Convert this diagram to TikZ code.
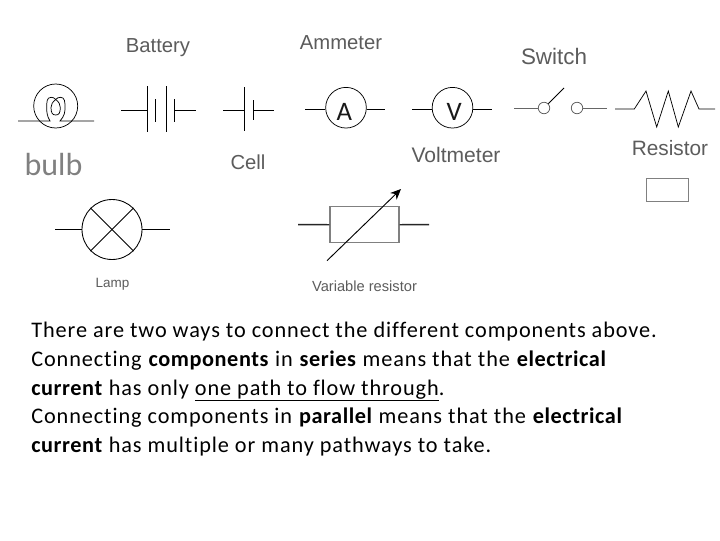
\documentclass[tikz,border=0pt]{standalone}
\usepackage{fontspec}
\setmainfont[LetterSpace=4.1,Ligatures=NoCommon,BoldFeatures={LetterSpace=2.6}]{Carlito}
\newfontfamily\lblfont{Liberation Sans}
\newfontfamily\plainfont{Carlito}
\usetikzlibrary{arrows.meta}
\definecolor{lblgray}{gray}{0.36}
\definecolor{bulbgray}{gray}{0.5}
\definecolor{boxgray}{gray}{0.5}
\tikzset{
  x=0.75pt,y=-0.75pt,
  wire/.style={draw=black,line width=0.55pt},
  thickwire/.style={draw=black!85,line width=1.05pt},
  graywire/.style={draw=black!60,line width=0.7pt},
  roundel/.style={circle,draw=black,line width=0.55pt,inner sep=0pt,minimum size=#1},
  grayroundel/.style={circle,draw=black!65,line width=0.55pt,inner sep=0pt,minimum size=#1},
  lbl/.style={font=\lblfont\fontsize{#1}{#1}\selectfont,text=lblgray,inner sep=0pt,anchor=center},
  meter/.style={font=\plainfont\fontsize{20}{20}\selectfont,inner sep=0pt,text=black!90},
  body/.style={font=\fontsize{16.7}{20}\selectfont,inner sep=0pt,anchor=base west,text=black},
}
\begin{document}
\begin{tikzpicture}
\useasboundingbox (0,0) rectangle (720,540);
\fill[white] (0,0) rectangle (720,540);
% labels
\node[lbl=15.2] (tbat) at (158,48) {Battery};
\node[lbl=15.2] (tamm) at (341,43) {Ammeter};
\node[lbl=16.8] (tsw) at (554,56) {Switch};
\node[lbl=15.6] (tres) at (670,148) {Resistor};
\node[lbl=15.8] (tvolt) at (456,155) {Voltmeter};
\node[lbl=15.2] (tcell) at (248,162) {Cell};
\node[font=\plainfont\fontsize{24}{24}\selectfont,text=bulbgray,inner sep=0pt] (tbulb) at (53.5,165) {bulb};
\node[lbl=10.1] (tlamp) at (112.5,284) {Lamp};
\node[lbl=11] (tvar) at (364.5,286) {Variable resistor};
% bulb
\node[roundel=33pt] (bulbc) at (55.7,106) {};
\coordinate (bl) at (18,121); \coordinate (bla) at (50,121);
\coordinate (br) at (94,121); \coordinate (bra) at (60,121);
\coordinate (btop) at (55.7,99.5); \coordinate (bbot) at (55.7,115);
\draw[wire] (bl) -- (bla) .. controls (47,116) and (46.7,112) .. (46.7,108)
  .. controls (46.7,102) and (46.7,97.3) .. (51,97.3)
  .. controls (53,97.3) and (54.5,98) .. (btop)
  .. controls (57,98) and (58.5,97.3) .. (60.5,97.3)
  .. controls (65,97.3) and (65,102) .. (65,108)
  .. controls (65,112) and (64.5,116) .. (bra) -- (br);
\draw[wire] (btop) .. controls (52.5,102) and (51,104.5) .. (51,107.5)
  .. controls (51,113) and (52.5,115) .. (bbot)
  .. controls (59,115) and (60.3,113) .. (60.3,107.5)
  .. controls (60.3,104.5) and (59,102) .. (btop);
% battery
\coordinate (ba) at (121,110); \coordinate (bb) at (147,110);
\coordinate (bc) at (175,110); \coordinate (bd) at (196,110);
\draw[wire] (ba) -- (bb); \draw[wire] (bc) -- (bd);
\draw[wire] (147,86) -- (147,132);
\draw[wire] (155,99) -- (155,122);
\draw[wire] (166,86) -- (166,132);
\draw[wire] (174.5,99) -- (174.5,122);
% cell
\coordinate (ca) at (223,110); \coordinate (cb) at (244.5,110);
\coordinate (cc) at (253,110); \coordinate (cd) at (274,110);
\draw[wire] (ca) -- (cb); \draw[wire] (cc) -- (cd);
\draw[wire] (244.5,87) -- (244.5,131);
\draw[wire] (253,100) -- (253,120);
% ammeter
\coordinate (aa) at (305,109.3); \coordinate (ab) at (385,109.3);
\node[roundel=30.5pt] (amm) at (346,107.7) {};
\node[meter] (ammt) at (344.3,112) {A};
\draw[wire] (aa) -- (amm.west |- aa); \draw[wire] (amm.east |- ab) -- (ab);
% voltmeter
\coordinate (va) at (412,109.3); \coordinate (vb) at (492,109.3);
\node[roundel=30.5pt] (volt) at (452.5,107.7) {};
\node[meter] (voltt) at (454.3,112) {V};
\draw[wire] (va) -- (volt.west |- va); \draw[wire] (volt.east |- vb) -- (vb);
% switch
\coordinate (sa) at (514,108); \coordinate (sb) at (607,108); \coordinate (sc) at (564,88);
\node[grayroundel=8.6pt] (s1) at (544,108) {};
\node[grayroundel=8.6pt] (s2) at (577,108) {};
\draw[graywire] (sa) -- (s1.west); \draw[graywire] (s2.east) -- (sb);
\draw[wire] (s1.north east) -- (sc);
% resistor
\draw[wire] (615,109) -- (634.3,109) -- (646,91) -- (656.7,127) -- (668.3,91) -- (678.3,127) -- (691,91) -- (699,109) -- (715,109);
\draw[boxgray,line width=0.7pt] (646,178.7) rectangle (688.3,201);
% lamp
\coordinate (la) at (55,229.5); \coordinate (lb) at (170,229.5);
\node[roundel=45pt,line width=0.65pt] (lamp) at (112,229.5) {};
\draw[wire] (la) -- (lamp.west); \draw[wire] (lamp.east) -- (lb);
\draw[wire,line width=0.65pt] (lamp.north west) -- (lamp.south east);
\draw[wire,line width=0.65pt] (lamp.south west) -- (lamp.north east);
% variable resistor
\coordinate (vra) at (298,224.6); \coordinate (vrb) at (429,224.6);
\node[draw=boxgray,line width=1.05pt,minimum width=51.7pt,minimum height=27pt,inner sep=0pt] (vr) at (364.5,224.7) {};
\draw[thickwire] (vra) -- (vr.west); \draw[thickwire] (vr.east) -- (vrb);
\coordinate (vrs) at (327,260.7); \coordinate (vre) at (401,189);
\draw[wire,line width=0.7pt,-{Stealth[length=8pt,width=7pt]}] (vrs) -- (vre);
% body text
\node[body] (l1) at (31,337.8) {There are two ways to connect the different components above.};
\node[body] (l2) at (31,366.5) {Connecting \textbf{components} in \textbf{series} means that the \textbf{electrical}};
\node[body] (l3) at (31,395) {\textbf{current} has only \underline{one path to flow through}.};
\node[body] (l4) at (31,423.5) {Connecting components in \textbf{parallel} means that the \textbf{electrical}};
\node[body] (l5) at (31,452.3) {\textbf{current} has multiple or many pathways to take.};
\end{tikzpicture}
\end{document}
